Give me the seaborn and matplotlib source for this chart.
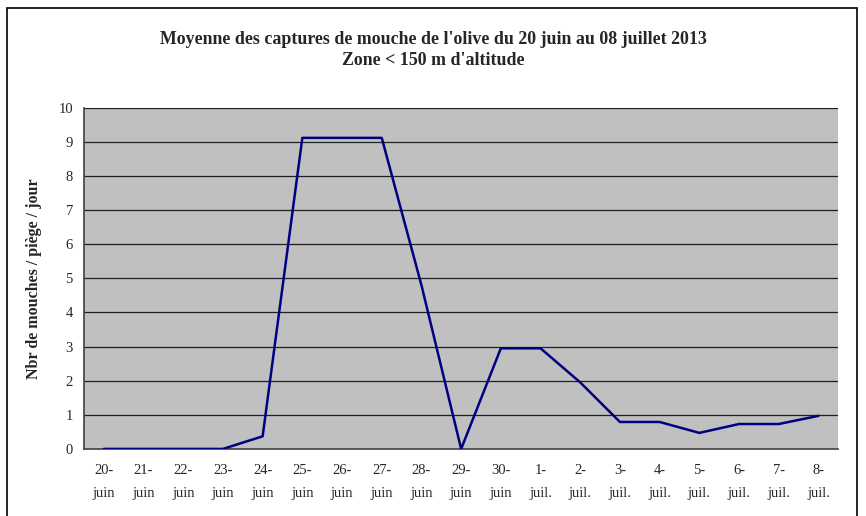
import numpy as np
import pandas as pd
import matplotlib
matplotlib.use("Agg")
import matplotlib.pyplot as plt
import seaborn as sns
from matplotlib.patches import Rectangle

# data
days = ["20-\njuin", "21-\njuin", "22-\njuin", "23-\njuin", "24-\njuin", "25-\njuin",
        "26-\njuin", "27-\njuin", "28-\njuin", "29-\njuin", "30-\njuin", "1-\njuil.",
        "2-\njuil.", "3-\njuil.", "4-\njuil.", "5-\njuil.", "6-\njuil.", "7-\njuil.", "8-\njuil."]
captures = [0, 0, 0, 0, 0.37, 9.12, 9.12, 9.12, 4.8, 0, 2.95, 2.95,
            1.95, 0.79, 0.79, 0.47, 0.73, 0.73, 0.97]
y_ticks = list(range(0, 11))

sns.set_style("white")
plt.rcParams["font.family"] = ["Liberation Serif", "DejaVu Serif"]

df = pd.DataFrame({"jour": days, "captures": captures})

fig = plt.figure(figsize=(8.66, 5.16), dpi=100)
ax = fig.add_axes([0.097, 0.130, 0.871, 0.661])
ax.set_facecolor("#C0C0C0")

sns.lineplot(data=df, x="jour", y="captures", sort=False, color="#000080",
             linewidth=1.8, ax=ax, zorder=3)

ax.set_xlim(-0.5, len(days) - 0.5)
ax.set_ylim(0, 10)
ax.set_yticks(y_ticks)
for y in y_ticks[1:]:
    ax.axhline(y, color="#202020", linewidth=0.9, zorder=1)

ax.set_xticks(range(len(days)))
ax.set_xticklabels(days, fontsize=10.5, linespacing=2.0)
ax.set_xticks(np.arange(-0.5, len(days), 1), minor=True)
ax.tick_params(axis="x", which="major", length=0, pad=11)
ax.tick_params(axis="x", which="minor", length=5, width=1, color="#404040", direction="out")
ax.tick_params(axis="y", length=5, width=1, color="#404040", direction="out", labelsize=10.5, pad=3)

for s in ["top", "right"]:
    ax.spines[s].set_visible(False)
for s in ["left", "bottom"]:
    ax.spines[s].set_color("#404040")
    ax.spines[s].set_linewidth(1.2)

ax.set_xlabel("")
ax.set_ylabel("Nbr de mouches / piège / jour", fontsize=11.5, fontweight="bold", labelpad=12)

fig.text(0.5, 0.924, "Moyenne des captures de mouche de l'olive du 20 juin au 08 juillet 2013",
         ha="center", va="center", fontsize=12.9, fontweight="bold")
fig.text(0.5, 0.882, "Zone < 150 m d'altitude",
         ha="center", va="center", fontsize=12.9, fontweight="bold")

fig.patches.append(Rectangle((0.008, -0.05), 0.982, 1.035, transform=fig.transFigure,
                             fill=False, edgecolor="black", linewidth=1.2))

fig.savefig("out.png", dpi=100)
